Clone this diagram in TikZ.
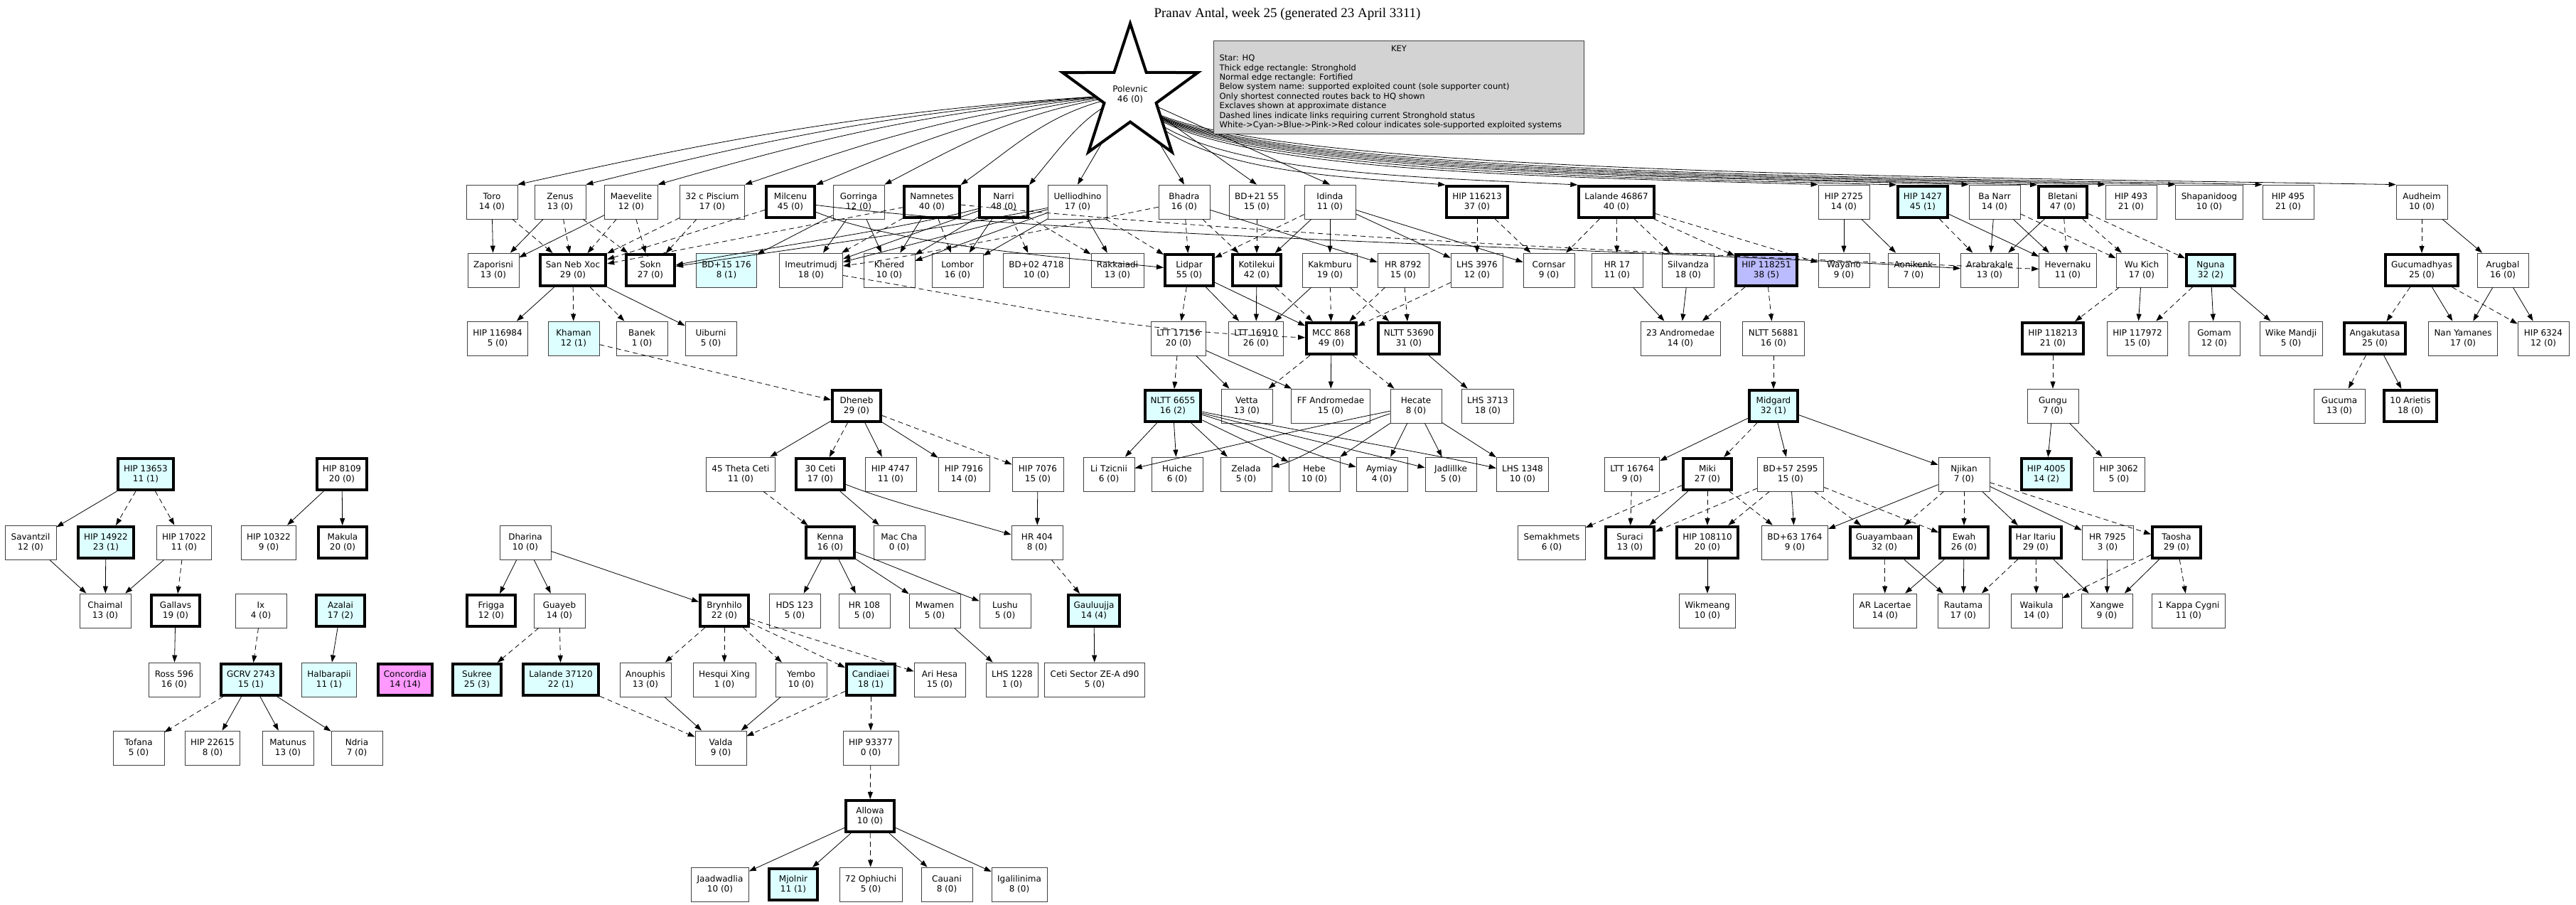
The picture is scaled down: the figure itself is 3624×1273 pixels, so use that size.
\documentclass[tikz,border=0pt]{standalone}
\usepackage{fontspec}
\setmainfont{DejaVu Sans}
\newfontfamily\titlefont{Liberation Serif}
\usetikzlibrary{shapes.geometric,arrows.meta}
\pgfdeclarelayer{bg}
\pgfsetlayers{bg,main}
\definecolor{cyanf}{RGB}{221,255,255}
\definecolor{bluef}{RGB}{187,187,255}
\definecolor{pinkf}{RGB}{255,153,255}
\definecolor{keyf}{RGB}{211,211,211}
\tikzset{
 sys/.style={draw=black!75, line width=0.8pt, fill=white, minimum width=72pt, minimum height=48pt, inner xsep=8pt, align=center, font=\fontsize{12}{14}\selectfont},
 sh/.style={sys, draw=black, line width=4pt, minimum width=68pt, minimum height=44pt},
 cy/.style={fill=cyanf},
 e/.style={line width=0.8pt, -{Triangle[length=10pt,width=7pt]}},
 d/.style={e, dash pattern=on 7pt off 5pt},
}
\begin{document}
\begin{tikzpicture}[x=1pt,y=-1pt]
\begin{pgfonlayer}{bg}
\path[fill=white] (0,0) rectangle (3624,1273);
\end{pgfonlayer}
\useasboundingbox (0,0) rectangle (3624,1273);
\node[font=\titlefont\fontsize{19}{22}\selectfont] (title) at (1811,20) {Pranav Antal, week 25 (generated 23 April 3311)};
\node[draw=black!75, line width=0.8pt, fill=keyf, minimum width=521pt, minimum height=131pt, align=left, inner sep=6pt, font=\fontsize{11.5}{13.4}\selectfont] (key) at (1968,123) {\makebox[505pt]{KEY}\\Star: HQ\\Thick edge rectangle: Stronghold\\Normal edge rectangle: Fortified\\Below system name: supported exploited count (sole supporter count)\\Only shortest connected routes back to HQ shown\\Exclaves shown at approximate distance\\Dashed lines indicate links requiring current Stronghold status\\White->Cyan->Blue->Pink->Red colour indicates sole-supported exploited systems};
\node[star, star points=5, star point ratio=2.6, draw=black, line width=4pt, fill=white, minimum size=200pt, inner sep=0pt, align=center, font=\fontsize{12}{14}\selectfont] (pol) at (1590,133) {Polevnic\\46 (0)};
% row 1
\node[sys] (toro) at (692,284) {Toro\\14 (0)};
\node[sys] (zenus) at (788,284) {Zenus\\13 (0)};
\node[sys] (maev) at (888,284) {Maevelite\\12 (0)};
\node[sys] (pisc) at (1002,284) {32 c Piscium\\17 (0)};
\node[sh] (milc) at (1112,284) {Milcenu\\45 (0)};
\node[sys] (gorr) at (1208,284) {Gorringa\\12 (0)};
\node[sh] (namn) at (1311,284) {Namnetes\\40 (0)};
\node[sh] (narri) at (1412,284) {Narri\\48 (0)};
\node[sys] (uell) at (1516,284) {Uelliodhino\\17 (0)};
\node[sys] (bhadra) at (1666,284) {Bhadra\\16 (0)};
\node[sys] (bd2155) at (1768,284) {BD+21 55\\15 (0)};
\node[sys] (idinda) at (1871,284) {Idinda\\11 (0)};
\node[sh] (hip116213) at (2078,284) {HIP 116213\\37 (0)};
\node[sh] (lal46867) at (2274,284) {Lalande 46867\\40 (0)};
\node[sys] (hip2725) at (2594,284) {HIP 2725\\14 (0)};
\node[sh,cy] (hip1427) at (2705,284) {HIP 1427\\45 (1)};
\node[sys] (banarr) at (2806,284) {Ba Narr\\14 (0)};
\node[sh] (bletani) at (2902,284) {Bletani\\47 (0)};
\node[sys] (hip493) at (2998,284) {HIP 493\\21 (0)};
\node[sys] (shap) at (3108,284) {Shapanidoog\\10 (0)};
\node[sys] (hip495) at (3219,284) {HIP 495\\21 (0)};
\node[sys] (audheim) at (3407,284) {Audheim\\10 (0)};
% row 2
\node[sys] (zapo) at (694,380) {Zaporisni\\13 (0)};
\node[sh] (sanneb) at (806,380) {San Neb Xoc\\29 (0)};
\node[sh] (sokn) at (915,380) {Sokn\\27 (0)};
\node[sys,cy] (bd15) at (1022,380) {BD+15 176\\8 (1)};
\node[sys] (imeu) at (1141,380) {Imeutrimudj\\18 (0)};
\node[sys] (khered) at (1251,380) {Khered\\10 (0)};
\node[sys] (lombor) at (1347,380) {Lombor\\16 (0)};
\node[sys] (bd02) at (1458,380) {BD+02 4718\\10 (0)};
\node[sys] (rakk) at (1572,380) {Rakkaiadi\\13 (0)};
\node[sh] (lidpar) at (1673,380) {Lidpar\\55 (0)};
\node[sh] (kotil) at (1768,380) {Kotilekui\\42 (0)};
\node[sys] (kakm) at (1871,380) {Kakmburu\\19 (0)};
\node[sys] (hr8792) at (1974,380) {HR 8792\\15 (0)};
\node[sys] (lhs3976) at (2078,380) {LHS 3976\\12 (0)};
\node[sys] (cornsar) at (2179,380) {Cornsar\\9 (0)};
\node[sys] (hr17) at (2275,380) {HR 17\\11 (0)};
\node[sys] (silv) at (2375,380) {Silvandza\\18 (0)};
\node[sh,fill=bluef] (hip118251) at (2485,380) {HIP 118251\\38 (5)};
\node[sys] (wayano) at (2594,380) {Wayano\\9 (0)};
\node[sys] (aonik) at (2692,380) {Aonikenk\\7 (0)};
\node[sys] (arab) at (2799,380) {Arabrakale\\13 (0)};
\node[sys] (hevern) at (2909,380) {Hevernaku\\11 (0)};
\node[sys] (wukich) at (3013,380) {Wu Kich\\17 (0)};
\node[sh,cy] (nguna) at (3110,380) {Nguna\\32 (2)};
\node[sh] (gucum) at (3407,380) {Gucumadhyas\\25 (0)};
\node[sys] (arugbal) at (3521,380) {Arugbal\\16 (0)};
% row 3
\node[sys] (hip116984) at (700,476) {HIP 116984\\5 (0)};
\node[sys,cy] (khaman) at (807,476) {Khaman\\12 (1)};
\node[sys] (banek) at (903,476) {Banek\\1 (0)};
\node[sys] (uiburni) at (1000,476) {Uiburni\\5 (0)};
\node[sys] (ltt17156) at (1658,476) {LTT 17156\\20 (0)};
\node[sys] (ltt16910) at (1767,476) {LTT 16910\\26 (0)};
\node[sh] (mcc868) at (1873,476) {MCC 868\\49 (0)};
\node[sh] (nltt53690) at (1982,476) {NLTT 53690\\31 (0)};
\node[sys] (andro23) at (2364,476) {23 Andromedae\\14 (0)};
\node[sys] (nltt56881) at (2495,476) {NLTT 56881\\16 (0)};
\node[sh] (hip118213) at (2888,476) {HIP 118213\\21 (0)};
\node[sys] (hip117972) at (3007,476) {HIP 117972\\15 (0)};
\node[sys] (gomam) at (3115,476) {Gomam\\12 (0)};
\node[sys] (wike) at (3223,476) {Wike Mandji\\5 (0)};
\node[sh] (angak) at (3341,476) {Angakutasa\\25 (0)};
\node[sys] (nanyam) at (3465,476) {Nan Yamanes\\17 (0)};
\node[sys] (hip6324) at (3578,476) {HIP 6324\\12 (0)};
% row 4
\node[sh] (dheneb) at (1205,571) {Dheneb\\29 (0)};
\node[sh,cy] (nltt6655) at (1650,571) {NLTT 6655\\16 (2)};
\node[sys] (vetta) at (1754,571) {Vetta\\13 (0)};
\node[sys] (ffand) at (1872,571) {FF Andromedae\\15 (0)};
\node[sys] (hecate) at (1992,571) {Hecate\\8 (0)};
\node[sys] (lhs3713) at (2093,571) {LHS 3713\\18 (0)};
\node[sh,cy] (midgard) at (2495,571) {Midgard\\32 (1)};
\node[sys] (gungu) at (2888,571) {Gungu\\7 (0)};
\node[sys] (gucuma) at (3291,571) {Gucuma\\13 (0)};
\node[sh] (arietis) at (3391,571) {10 Arietis\\18 (0)};
% row 5
\node[sh,cy] (hip13653) at (205,667) {HIP 13653\\11 (1)};
\node[sh] (hip8109) at (481,667) {HIP 8109\\20 (0)};
\node[sys] (theta45) at (1042,667) {45 Theta Ceti\\11 (0)};
\node[sh] (ceti30) at (1154,667) {30 Ceti\\17 (0)};
\node[sys] (hip4747) at (1253,667) {HIP 4747\\11 (0)};
\node[sys] (hip7916) at (1356,667) {HIP 7916\\14 (0)};
\node[sys] (hip7076) at (1460,667) {HIP 7076\\15 (0)};
\node[sys] (litz) at (1560,667) {Li Tzicnii\\6 (0)};
\node[sys] (huiche) at (1656,667) {Huiche\\6 (0)};
\node[sys] (zelada) at (1753,667) {Zelada\\5 (0)};
\node[sys] (hebe) at (1849,667) {Hebe\\10 (0)};
\node[sys] (aymiay) at (1944,667) {Aymiay\\4 (0)};
\node[sys] (jadl) at (2041,667) {Jadlillke\\5 (0)};
\node[sys] (lhs1348) at (2142,667) {LHS 1348\\10 (0)};
\node[sys] (ltt16764) at (2296,667) {LTT 16764\\9 (0)};
\node[sh] (miki) at (2402,667) {Miki\\27 (0)};
\node[sys] (bd572595) at (2519,667) {BD+57 2595\\15 (0)};
\node[sys] (njikan) at (2763,667) {Njikan\\7 (0)};
\node[sh,cy] (hip4005) at (2879,667) {HIP 4005\\14 (2)};
\node[sys] (hip3062) at (2981,667) {HIP 3062\\5 (0)};
% row 6
\node[sys] (savantzil) at (43,763) {Savantzil\\12 (0)};
\node[sh,cy] (hip14922) at (149,763) {HIP 14922\\23 (1)};
\node[sys] (hip17022) at (259,763) {HIP 17022\\11 (0)};
\node[sys] (hip10322) at (378,763) {HIP 10322\\9 (0)};
\node[sh] (makula) at (482,763) {Makula\\20 (0)};
\node[sys] (dharina) at (739,763) {Dharina\\10 (0)};
\node[sh] (kenna) at (1168,763) {Kenna\\16 (0)};
\node[sys] (maccha) at (1265,763) {Mac Cha\\0 (0)};
\node[sys] (hr404) at (1459,763) {HR 404\\8 (0)};
\node[sys] (semakh) at (2183,763) {Semakhmets\\6 (0)};
\node[sh] (suraci) at (2293,763) {Suraci\\13 (0)};
\node[sh] (hip108110) at (2402,763) {HIP 108110\\20 (0)};
\node[sys] (bd631764) at (2525,763) {BD+63 1764\\9 (0)};
\node[sh] (guayam) at (2651,763) {Guayambaan\\32 (0)};
\node[sh] (ewah) at (2763,763) {Ewah\\26 (0)};
\node[sh] (haritariu) at (2864,763) {Har Itariu\\29 (0)};
\node[sys] (hr7925) at (2965,763) {HR 7925\\3 (0)};
\node[sh] (taosha) at (3062,763) {Taosha\\29 (0)};
% row 7
\node[sys] (chaimal) at (148,859) {Chaimal\\13 (0)};
\node[sh] (gallavs) at (247,859) {Gallavs\\19 (0)};
\node[sys] (ix) at (367,859) {Ix\\4 (0)};
\node[sh,cy] (azalai) at (479,859) {Azalai\\17 (2)};
\node[sh] (frigga) at (691,859) {Frigga\\12 (0)};
\node[sys] (guayeb) at (787,859) {Guayeb\\14 (0)};
\node[sh] (brynhilo) at (1019,859) {Brynhilo\\22 (0)};
\node[sys] (hds123) at (1118,859) {HDS 123\\5 (0)};
\node[sys] (hr108) at (1216,859) {HR 108\\5 (0)};
\node[sys] (mwamen) at (1315,859) {Mwamen\\5 (0)};
\node[sys] (lushu) at (1414,859) {Lushu\\5 (0)};
\node[sh,cy] (gauluujja) at (1539,859) {Gauluujja\\14 (4)};
\node[sys] (wikmeang) at (2402,859) {Wikmeang\\10 (0)};
\node[sys] (arlac) at (2652,859) {AR Lacertae\\14 (0)};
\node[sys] (rautama) at (2762,859) {Rautama\\17 (0)};
\node[sys] (waikula) at (2865,859) {Waikula\\14 (0)};
\node[sys] (xangwe) at (2964,859) {Xangwe\\9 (0)};
\node[sys] (kappa) at (3079,859) {1 Kappa Cygni\\11 (0)};
% row 8
\node[sys] (ross596) at (245,956) {Ross 596\\16 (0)};
\node[sh,cy] (gcrv) at (353,956) {GCRV 2743\\15 (1)};
\node[sys,cy] (halbar) at (463,956) {Halbarapii\\11 (1)};
\node[sh,fill=pinkf] (concordia) at (570,956) {Concordia\\14 (14)};
\node[sh,cy] (sukree) at (671,956) {Sukree\\25 (3)};
\node[sh,cy] (lal37120) at (789,956) {Lalande 37120\\22 (1)};
\node[sys] (anouphis) at (908,956) {Anouphis\\13 (0)};
\node[sys] (hesqui) at (1019,956) {Hesqui Xing\\1 (0)};
\node[sys] (yembo) at (1127,956) {Yembo\\10 (0)};
\node[sh,cy] (candiaei) at (1225,956) {Candiaei\\18 (1)};
\node[sys] (arihesa) at (1322,956) {Ari Hesa\\15 (0)};
\node[sys] (lhs1228) at (1424,956) {LHS 1228\\1 (0)};
\node[sys] (cetisec) at (1540,956) {Ceti Sector ZE-A d90\\5 (0)};
% row 9-11
\node[sys] (tofana) at (195,1052) {Tofana\\5 (0)};
\node[sys] (hip22615) at (299,1052) {HIP 22615\\8 (0)};
\node[sys] (matunus) at (405,1052) {Matunus\\13 (0)};
\node[sys] (ndria) at (502,1052) {Ndria\\7 (0)};
\node[sys] (valda) at (1014,1052) {Valda\\9 (0)};
\node[sys] (hip93377) at (1225,1052) {HIP 93377\\0 (0)};
\node[sh] (allowa) at (1224,1148) {Allowa\\10 (0)};
\node[sys] (jaad) at (1013,1244) {Jaadwadlia\\10 (0)};
\node[sh,cy] (mjolnir) at (1116,1244) {Mjolnir\\11 (1)};
\node[sys] (oph72) at (1225,1244) {72 Ophiuchi\\5 (0)};
\node[sys] (cauani) at (1332,1244) {Cauani\\8 (0)};
\node[sys] (igal) at (1434,1244) {Igalilinima\\8 (0)};
\begin{pgfonlayer}{bg}
% HQ edges (start under the star)
\foreach \b/\u/\v in {toro/-360/270,zenus/-320/240,maev/-280/210,pisc/-235/175,milc/-190/143,gorr/-150/115,namn/-110/84,narri/-60/50}
  \draw[e] (pol.center) .. controls +(\u,20) and +(\v,-60) .. (\b.north east);
\foreach \b in {uell,bhadra,bd2155,idinda} \draw[e] (pol.center) -- (\b.north);
\foreach \b/\v in {hip116213/150,lal46867/250,hip2725/400,hip1427/440,banarr/480,bletani/520,hip493/560,shap/600,hip495/650,audheim/720}
  \draw[e] (pol.center) .. controls +(60,110) and +(-\v,-12) .. (\b.north west);
\end{pgfonlayer}
% solid edges
\foreach \a/\b in {toro/zapo,zenus/zapo,maev/zapo,gorr/bd15,gorr/imeu,gorr/khered,namn/khered,narri/imeu,narri/khered,narri/lombor,uell/imeu,uell/khered,uell/lombor,uell/rakk,bhadra/hr8792,idinda/kotil,idinda/kakm,idinda/lhs3976,idinda/cornsar,hip2725/wayano,hip2725/aonik,hip1427/hevern,banarr/arab,banarr/hevern,bletani/arab,audheim/arugbal,
 sanneb/hip116984,sanneb/uiburni,lidpar/ltt16910,lidpar/mcc868,kotil/ltt16910,kakm/ltt16910,hr17/andro23,silv/andro23,wukich/hip117972,nguna/gomam,nguna/wike,gucum/nanyam,arugbal/nanyam,arugbal/hip6324,
 ltt17156/vetta,ltt17156/ffand,mcc868/ffand,nltt53690/lhs3713,angak/arietis,
 dheneb/theta45,dheneb/hip4747,dheneb/hip7916,nltt6655/litz,nltt6655/huiche,nltt6655/zelada,nltt6655/hebe,hecate/hebe,hecate/aymiay,hecate/jadl,hecate/lhs1348,
 midgard/ltt16764,midgard/bd572595,midgard/njikan,gungu/hip4005,gungu/hip3062,
 ceti30/maccha,hip7076/hr404,miki/suraci,bd572595/bd631764,njikan/bd631764,njikan/haritariu,njikan/hr7925,
 hip13653/savantzil,hip8109/hip10322,hip8109/makula,savantzil/chaimal,hip14922/chaimal,hip17022/chaimal,gallavs/ross596,azalai/halbar,
 gcrv/hip22615,gcrv/matunus,gcrv/ndria,dharina/frigga,dharina/guayeb,dharina/brynhilo,kenna/hds123,kenna/hr108,kenna/mwamen,
 hip108110/wikmeang,guayam/rautama,ewah/arlac,ewah/rautama,haritariu/xangwe,hr7925/xangwe,taosha/xangwe,
 mwamen/lhs1228,gauluujja/cetisec,anouphis/valda,yembo/valda,allowa/jaad,allowa/mjolnir,allowa/cauani,allowa/igal}
  \draw[e] (\a) -- (\b);
% curved solid
\draw[e] (narri) .. controls +(-150,40) and +(150,-30) .. (sokn);
\draw[e] (uell) .. controls +(-200,40) and +(200,-30) .. (sokn);
\draw[e] (milc) .. controls +(150,60) and +(-200,-20) .. (lidpar);
\draw[e] (milc) .. controls +(400,50) and +(-500,-30) .. (arab);
\draw[e] (ceti30) .. controls +(100,40) and +(-100,-30) .. (hr404);
\draw[e] (kenna) .. controls +(80,30) and +(-80,-30) .. (lushu);
\draw[e] (nltt6655) .. controls +(100,30) and +(-90,-25) .. (aymiay);
\draw[e] (nltt6655) .. controls +(120,30) and +(-100,-25) .. (jadl);
\draw[e] (nltt6655) .. controls +(150,30) and +(-110,-25) .. (lhs1348);
\draw[e] (hecate) .. controls +(-100,30) and +(90,-25) .. (zelada);
\draw[e] (hecate) .. controls +(-150,30) and +(130,-30) .. (litz);
% dashed edges
\foreach \a/\b in {toro/sanneb,zenus/sanneb,zenus/sokn,maev/sanneb,maev/sokn,pisc/sanneb,pisc/sokn,milc/sanneb,namn/sanneb,namn/imeu,namn/lombor,narri/bd02,narri/rakk,uell/lidpar,bhadra/lidpar,bhadra/kotil,bd2155/kotil,idinda/lidpar,hip116213/lhs3976,hip116213/cornsar,lal46867/cornsar,lal46867/hr17,lal46867/silv,lal46867/hip118251,lal46867/wayano,hip1427/arab,banarr/wukich,bletani/hevern,bletani/wukich,bletani/nguna,audheim/gucum,
 sanneb/khaman,sanneb/banek,lidpar/ltt17156,kotil/mcc868,kakm/mcc868,kakm/nltt53690,hr8792/mcc868,hr8792/nltt53690,lhs3976/mcc868,hip118251/andro23,hip118251/nltt56881,wukich/hip118213,nguna/hip117972,gucum/angak,gucum/hip6324,
 khaman/dheneb,ltt17156/nltt6655,mcc868/vetta,mcc868/hecate,nltt56881/midgard,hip118213/gungu,angak/gucuma,
 dheneb/ceti30,dheneb/hip7076,midgard/miki,theta45/kenna,hr404/gauluujja,ltt16764/suraci,miki/semakh,miki/hip108110,miki/bd631764,bd572595/suraci,bd572595/hip108110,bd572595/guayam,bd572595/ewah,njikan/guayam,njikan/ewah,njikan/taosha,
 hip13653/hip14922,hip13653/hip17022,hip17022/gallavs,ix/gcrv,gcrv/tofana,guayam/arlac,haritariu/rautama,haritariu/waikula,taosha/waikula,taosha/kappa,
 guayeb/sukree,guayeb/lal37120,brynhilo/anouphis,brynhilo/hesqui,brynhilo/yembo,brynhilo/candiaei,brynhilo/arihesa,lal37120/valda,candiaei/valda,candiaei/hip93377,hip93377/allowa,allowa/oph72}
  \draw[d] (\a) -- (\b);
\draw[d] (imeu) .. controls +(300,50) and +(-300,-10) .. (mcc868);
\draw[d] (bhadra) .. controls +(-150,30) and +(150,-20) .. (imeu);
\draw[d] (namn) .. controls +(500,50) and +(-500,-20) .. (hevern);
\end{tikzpicture}
\end{document}
